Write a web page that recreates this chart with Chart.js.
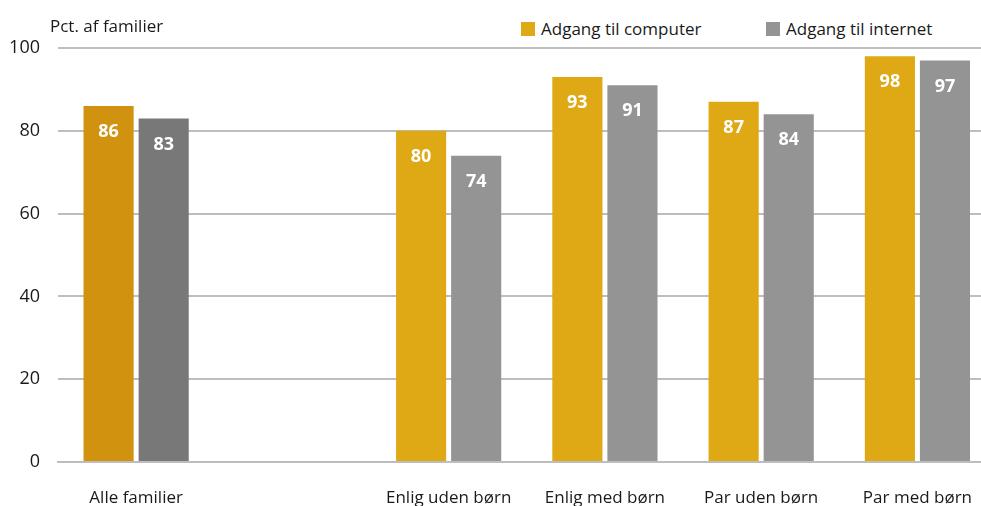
<!DOCTYPE html>
<html>
<head>
  <title>Adgang til computer og internet</title>
  <script src="https://cdn.jsdelivr.net/npm/chart.js"></script>
  <style>
    body { margin: 0; overflow: hidden; background: #fff; font-family: "Open Sans", sans-serif; }
    #wrap { position: relative; width: 998px; height: 506px; }
    #title { position: absolute; left: 50px; top: 14px; font-size: 17px; color: #1a1a1a; }
    #legend { position: absolute; left: 490px; top: 0; width: 477px; height: 46px; background: #fff; font-size: 17px; color: #1a1a1a; }
    .item { position: absolute; top: 17px; white-space: nowrap; }
    .sw { display: inline-block; width: 14px; height: 14px; margin-right: 6px; vertical-align: -1px; }
  </style>
</head>
<body>
<div id="wrap">
  <canvas id="myChart" width="998" height="506"></canvas>
  <div id="legend">
    <span class="item" style="left:31px"><span class="sw" style="background:#DEA914"></span>Adgang til computer</span>
    <span class="item" style="left:276px"><span class="sw" style="background:#949494"></span>Adgang til internet</span>
  </div>
  <div id="title">Pct. af familier</div>
</div>

<script>
  const labels = ['Alle familier', '', 'Enlig uden børn', 'Enlig med børn', 'Par uden børn', 'Par med børn'];
  const computer = [86, null, 80, 93, 87, 98];
  const internet = [83, null, 74, 91, 84, 97];
  const yTicks = [0, 20, 40, 60, 80, 100];

  // first group is drawn in darker shades
  const goldColors = labels.map((l, i) => i === 0 ? '#D0920F' : '#DEA914');
  const grayColors = labels.map((l, i) => i === 0 ? '#787878' : '#949494');

  // white value labels inside top of each bar
  const valueLabels = {
    id: 'valueLabels',
    afterDatasetsDraw(chart) {
      const ctx = chart.ctx;
      ctx.save();
      ctx.fillStyle = '#fff';
      ctx.font = 'bold 18px "Open Sans"';
      ctx.textAlign = 'center';
      ctx.textBaseline = 'middle';
      chart.data.datasets.forEach((ds, di) => {
        chart.getDatasetMeta(di).data.forEach((bar, i) => {
          if (ds.data[i] == null) return;
          ctx.fillText(ds.data[i], bar.x, bar.y + 26);
        });
      });
      ctx.restore();
    }
  };

  new Chart(document.getElementById('myChart'), {
    type: 'bar',
    data: {
      labels: labels,
      datasets: [
        { label: 'Adgang til computer', data: computer, backgroundColor: goldColors },
        { label: 'Adgang til internet', data: internet, backgroundColor: grayColors }
      ]
    },
    options: {
      responsive: false,
      animation: false,
      categoryPercentage: 0.705,
      barPercentage: 0.91,
      layout: { padding: { top: 48, right: 0, bottom: 0, left: 0 } },
      plugins: { legend: { display: false }, tooltip: { enabled: false } },
      scales: {
        x: {
          grid: { display: false, drawTicks: false },
          border: { color: '#BDBDBD', width: 2 },
          ticks: { color: '#1a1a1a', font: { size: 17, family: 'Open Sans' }, padding: 26, maxRotation: 0 },
          afterFit: s => { s.height = 44; }
        },
        y: {
          min: 0, max: 100,
          afterBuildTicks: s => { s.ticks = yTicks.map(v => ({ value: v })); },
          grid: { color: '#BDBDBD', lineWidth: 2, drawTicks: false },
          border: { display: false },
          ticks: { color: '#1a1a1a', font: { size: 18, family: 'Open Sans' }, padding: 18 },
          afterFit: s => { s.width = 58; }
        }
      }
    },
    plugins: [valueLabels]
  });
</script>
</body>
</html>
